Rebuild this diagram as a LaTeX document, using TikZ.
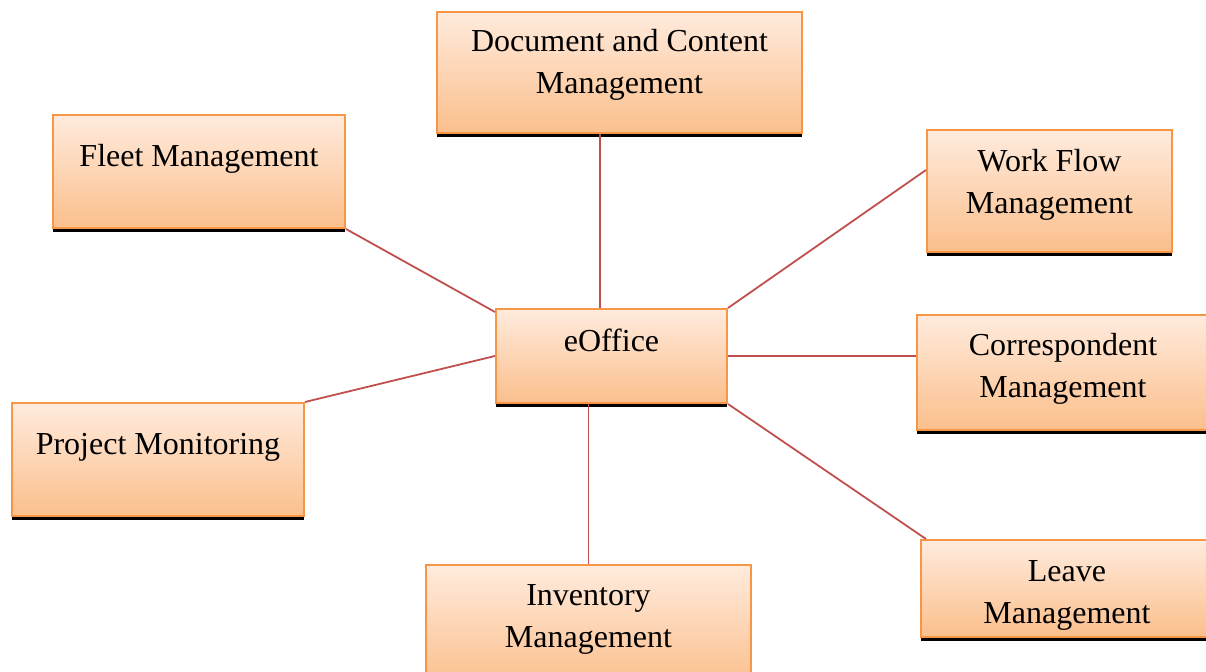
\documentclass[tikz,border=0pt]{standalone}
\usepackage{fontspec}
\setmainfont{Liberation Serif}
\usetikzlibrary{calc,shadows}
\definecolor{boxline}{HTML}{F79646}
\definecolor{boxtop}{HTML}{FFEBDD}
\definecolor{boxbottom}{HTML}{FBBF8C}
\definecolor{linkred}{HTML}{C0504D}
\tikzset{
  module/.style n args={3}{draw=boxline,line width=1pt,top color=boxtop,bottom color=boxbottom,
    general shadow={fill=black,shadow yshift=-2.2pt},inner sep=0pt,align=center,
    minimum width=#1pt,text height=#2pt,text depth=#3pt,font=\fontsize{16}{21}\selectfont},
  link/.style={draw=linkred,line width=0.9pt}
}

\begin{document}
\begin{tikzpicture}[x=0.5pt,y=-0.5pt]
\useasboundingbox (0,0) rectangle (1206,672);
\node (doc)[module={182.5}{41}{19.5}] at (619.5,72.5) {Document and Content\\Management};
\node (fleet)[module={146}{26}{30.5}] at (199,171.5) {Fleet Management};
\node (flow)[module={122.5}{42}{19}] at (1049.5,191) {Work Flow\\Management};
\node (eoffice)[module={115.5}{21.5}{25.5}] at (611.5,356) {eOffice};
\node (corr)[module={146}{41.5}{16}] at (1063,372.5) {Correspondent\\Management};
\node (project)[module={146}{26}{30.5}] at (158,459.5) {Project Monitoring};
\node (inventory)[module={162.5}{41.5}{19}] at (588.5,625.5) {Inventory\\Management};
\node (leave)[module={146}{42}{6.5}] at (1067,588.5) {Leave\\Management};
\coordinate (docfoot) at ($(doc.south)+(-19.5,0)$);
\draw[link] (docfoot)--(docfoot |- eoffice.north);
\draw[link] (fleet.south east)--($(eoffice.north west)+(0,4)$);
\draw[link] ($(flow.west)+(0,-21)$)--(eoffice.north east);
\draw[link] (eoffice.east)--(eoffice.east -| corr.west);
\draw[link] (project.north east)--(eoffice.west);
\draw[link] (inventory.north)--(inventory.north |- eoffice.south);
\draw[link] (eoffice.south east)--($(leave.north west)+(6,0)$);
\end{tikzpicture}
\end{document}
